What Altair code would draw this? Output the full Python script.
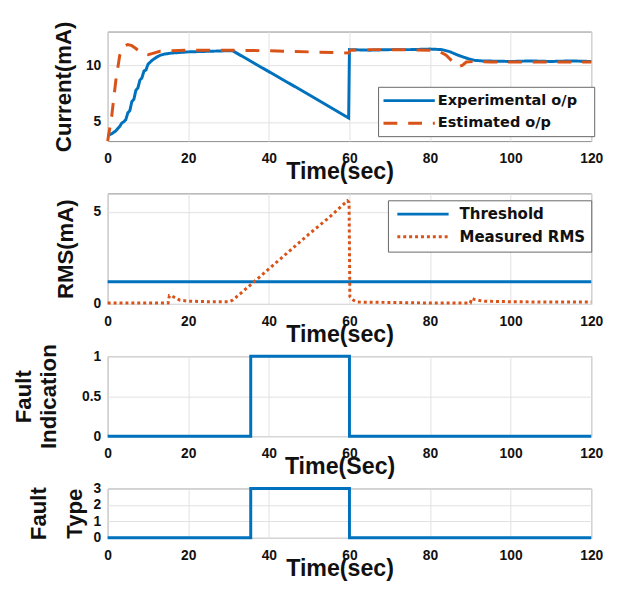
import altair as alt
import pandas as pd

BLUE = "#0072BD"
ORANGE = "#D95319"
FONT = "Liberation Sans, Arial, sans-serif"
LFONT = "DejaVu Sans, Verdana, sans-serif"

# ---------------- data ----------------
# Panel 1: current
exp_t = [0, 1, 2, 3, 3.5, 4, 4.5, 5, 5.5, 6, 6.5, 7, 7.5, 8, 8.5, 9, 9.5, 10, 11, 12, 13, 14, 16, 20, 25, 30,
         31, 40, 50, 59.8, 60, 65, 70, 75, 80, 83, 85, 87, 89, 91, 93, 100, 105, 110, 115, 120]
exp_i = [3.8, 3.95, 4.2, 4.6, 4.9, 5.0, 5.2, 5.8, 6.0, 6.8, 7.0, 7.8, 8.0, 8.7, 8.9, 9.5, 9.6, 10.1, 10.45, 10.7,
         10.9, 11.0, 11.1, 11.2, 11.25, 11.3, 11.3, 9.45, 7.4, 5.35, 11.4, 11.35, 11.4, 11.4, 11.45, 11.4, 11.2,
         10.9, 10.65, 10.45, 10.4, 10.35, 10.4, 10.35, 10.4, 10.35]
est_t = [0, 1, 2, 3, 4, 5, 6, 7, 8, 9, 10, 11, 13, 16, 20, 30, 40, 50, 59.8, 60.2, 65, 70, 80, 82, 84, 86, 87,
         88, 89, 91, 95, 100, 110, 120]
est_i = [3.3, 5.5, 8.6, 10.9, 11.7, 11.85, 11.75, 11.5, 11.2, 11.0, 10.95, 11.05, 11.25, 11.3, 11.35, 11.35,
         11.3, 11.2, 11.1, 11.35, 11.4, 11.4, 11.35, 11.3, 10.9, 10.2, 9.9, 10.0, 10.3, 10.35, 10.3, 10.3, 10.3, 10.3]

# Panel 2: RMS
thr_t = [0, 120]
thr_v = [1.2, 1.2]
rms_t = [0, 15, 15.3, 16, 17, 18, 20, 25, 30, 31, 35, 40, 45, 50, 55, 59.5, 59.9, 60.1, 60.5, 61, 62, 70, 80,
         90, 90.3, 91, 93, 100, 110, 120]
rms_v = [0.05, 0.05, 0.45, 0.42, 0.3, 0.2, 0.15, 0.12, 0.12, 0.2, 0.95, 1.9, 2.85, 3.8, 4.7, 5.6, 5.5, 0.4,
         0.3, 0.2, 0.1, 0.08, 0.05, 0.05, 0.3, 0.25, 0.15, 0.12, 0.1, 0.1]

# Panel 3 / 4: fault indication and type
fault_t = [0, 35.5, 35.5, 60, 60, 120]
fault_ind = [0, 0, 1, 1, 0, 0]
fault_type = [0, 0, 3, 3, 0, 0]

x_ticks = [0, 20, 40, 60, 80, 100, 120]

names1 = ["Experimental o/p", "Estimated o/p"]
names2 = ["Threshold", "Measured RMS"]

W = 490


def frame(ts, vs, name):
    return pd.DataFrame({"t": ts, "v": vs, "series": name, "idx": list(range(len(ts)))})


def xaxis(title):
    return alt.Axis(values=x_ticks, title=title, labelFont=FONT, labelFontSize=14, labelFontWeight="bold",
                    labelColor="#111", labelPadding=11, labelFlush=False, labelOverlap=False,
                    titleFont=FONT, titleFontSize=23.5, titleFontWeight="bold", titleColor="#111",
                    titleX=235, titleY=38, titleAlign="center", titleBaseline="alphabetic",
                    grid=True, gridColor="#e2e2e2", ticks=False, domain=False)


def yaxis(title, values, tx, h, lh=25):
    return alt.Axis(values=values, title=title, format="~f", labelFont=FONT, labelFontSize=14,
                    labelFontWeight="bold", labelColor="#111", labelPadding=7, labelOverlap=False,
                    labelFlush=False,
                    titleFont=FONT, titleFontSize=22.5, titleFontWeight="bold", titleColor="#111",
                    titleAngle=270, titleX=tx, titleY=h / 2, titleAlign="center", titleBaseline="middle",
                    titleLineHeight=lh, grid=True, gridColor="#e2e2e2", ticks=False, domain=False)


def legend(lx, ly, rp, so, lo, fs, extra=None):
    kw = dict(orient="none", legendX=lx, legendY=ly, symbolType="M-4,0H4",
              symbolSize=169, symbolStrokeWidth=3, symbolOffset=so, labelOffset=lo,
              labelFont=LFONT, labelFontSize=fs, labelFontWeight="bold", labelColor="#111",
              labelLimit=400, fillColor="white", strokeColor="#666666", padding=6, rowPadding=rp)
    if extra:
        # invisible white spacer on the right keeps the frame as wide as in the original
        kw.update(title=".", titleOrient="right", titleColor="white", titleFontSize=8, titlePadding=extra)
    else:
        kw.update(title=None)
    return alt.Legend(**kw)


xs = alt.Scale(domain=[0, 120], nice=False)

# Panel 1
H1 = 111
d1 = pd.concat([frame(exp_t, exp_i, names1[0]), frame(est_t, est_i, names1[1])])
leg1 = legend(274, 56, 8, 17.5, 21, 14.7, extra=8)
p1 = alt.Chart(d1).mark_line(strokeWidth=3).encode(
    x=alt.X("t:Q", scale=xs, axis=xaxis("Time(sec)")),
    y=alt.Y("v:Q", scale=alt.Scale(domain=[3.3, 13], nice=False, zero=False),
            axis=yaxis("Current(mA)", [5, 10], -45, H1)),
    color=alt.Color("series:N", scale=alt.Scale(domain=names1, range=[BLUE, ORANGE]), legend=leg1),
    strokeDash=alt.StrokeDash("series:N", scale=alt.Scale(domain=names1, range=[[1, 0], [14, 11]]),
                              legend=leg1),
    order="idx:Q",
).properties(width=W, height=H1)

# Panel 2
H2 = 112
d2 = pd.concat([frame(thr_t, thr_v, names2[0]), frame(rms_t, rms_v, names2[1])])
leg2 = legend(284, 7, 6, 21.5, 29, 15.2)
p2 = alt.Chart(d2).mark_line(strokeWidth=3).encode(
    x=alt.X("t:Q", scale=xs, axis=xaxis("Time(sec)")),
    y=alt.Y("v:Q", scale=alt.Scale(domain=[0, 6], nice=False), axis=yaxis("RMS(mA)", [0, 5], -43, H2)),
    color=alt.Color("series:N", scale=alt.Scale(domain=names2, range=[BLUE, ORANGE]), legend=leg2),
    strokeDash=alt.StrokeDash("series:N", scale=alt.Scale(domain=names2, range=[[1, 0], [3, 3]]),
                              legend=leg2),
    order="idx:Q",
).properties(width=W, height=H2)

# Panel 3
H3 = 81
d3 = frame(fault_t, fault_ind, "ind")
p3 = alt.Chart(d3).mark_line(strokeWidth=3, color=BLUE).encode(
    x=alt.X("t:Q", scale=xs, axis=xaxis("Time(Sec)")),
    y=alt.Y("v:Q", scale=alt.Scale(domain=[0, 1], nice=False),
            axis=yaxis(["Fault", "Indication"], [0, 0.5, 1], -85, H3, lh=25)),
    order="idx:Q",
).properties(width=W, height=H3)

# Panel 4
H4 = 50
d4 = frame(fault_t, fault_type, "type")
p4 = alt.Chart(d4).mark_line(strokeWidth=3, color=BLUE).encode(
    x=alt.X("t:Q", scale=xs, axis=xaxis("Time(sec)")),
    y=alt.Y("v:Q", scale=alt.Scale(domain=[0, 3], nice=False),
            axis=yaxis(["Fault", "Type"], [0, 1, 2, 3], -70, H4, lh=37)),
    order="idx:Q",
).properties(width=W, height=H4)

chart = alt.vconcat(p1, p2, p3, p4, spacing=53, bounds="flush").resolve_scale(
    color="independent", strokeDash="independent").resolve_legend(
    color="independent", strokeDash="independent").properties(
    padding={"left": 4, "top": 8, "right": 5, "bottom": 5}, background="white"
).configure_view(stroke="#8c8c8c", strokeWidth=1)

chart.save("out.html", embed_options={"renderer": "svg", "actions": False})
